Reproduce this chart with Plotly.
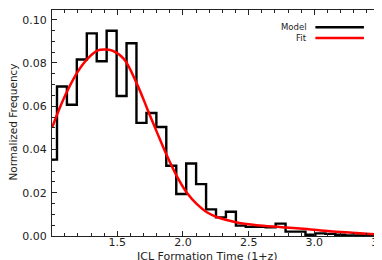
import plotly.graph_objects as go

# Histogram (bin centres, normalized frequency)
bin_centers = [1.003, 1.079, 1.154, 1.230, 1.306, 1.381, 1.457, 1.533, 1.608, 1.684,
               1.760, 1.835, 1.911, 1.987, 2.062, 2.138, 2.214, 2.289, 2.365, 2.441,
               2.516, 2.592, 2.668, 2.743, 2.819, 2.895, 2.970, 3.046, 3.122, 3.197,
               3.273, 3.349, 3.424, 3.500]
model_freq = [0.0353, 0.0691, 0.0607, 0.0816, 0.0937, 0.0808, 0.0949, 0.0647, 0.0891, 0.0523,
              0.0569, 0.0504, 0.0325, 0.0194, 0.0335, 0.0240, 0.0123, 0.0086, 0.0112, 0.0048,
              0.0042, 0.0042, 0.0040, 0.0057, 0.0020, 0.0020, 0.0006, 0.0012, 0.0010, 0.0006,
              0.0003, 0.0002, 0.0002, 0.0002]

# Fit curve samples
fit_x = [1.003, 1.06, 1.121, 1.197, 1.273, 1.348, 1.40, 1.462, 1.55, 1.652,
         1.727, 1.803, 1.879, 1.955, 2.03, 2.106, 2.182, 2.258, 2.333, 2.43,
         2.56, 2.75, 2.94, 3.12, 3.32, 3.5]
fit_y = [0.0500, 0.0590, 0.0673, 0.0758, 0.0819, 0.0857, 0.0862, 0.0857, 0.0819, 0.0700,
         0.0590, 0.0478, 0.0370, 0.0275, 0.0200, 0.0147, 0.0110, 0.0088, 0.0074, 0.0060,
         0.0050, 0.0041, 0.0032, 0.0022, 0.0014, 0.0006]

x_ticks = [1.5, 2.0, 2.5, 3.0, 3.5]
y_ticks = [0.00, 0.02, 0.04, 0.06, 0.08, 0.10]

FONT = "DejaVu Sans"
TXT = "#222222"

fig = go.Figure()
fig.add_trace(go.Scatter(x=bin_centers, y=model_freq, mode="lines",
                         line=dict(color="black", width=2.4, shape="hvh"),
                         name="Model", showlegend=False))
fig.add_trace(go.Scatter(x=fit_x, y=fit_y, mode="lines",
                         line=dict(color="#ff0000", width=2.5, shape="spline", smoothing=1.0),
                         name="Fit", showlegend=False))

axis_common = dict(showline=True, linecolor="#222222", linewidth=1, mirror="ticks",
                   ticks="inside", ticklen=5, tickcolor="#222222", tickwidth=1,
                   showgrid=False, zeroline=False, ticklabeloverflow="allow",
                   tickfont=dict(family=FONT, size=11, color=TXT))

fig.update_xaxes(range=[1.003, 3.5], tickmode="array", tickvals=x_ticks,
                 ticktext=[f"{v:.1f}" for v in x_ticks],
                 minor=dict(dtick=0.1, tick0=1.0, ticks="inside", ticklen=3,
                            tickcolor="#222222", showgrid=False),
                 ticklabelstandoff=-4,
                 **axis_common)
fig.update_yaxes(range=[0, 0.1045], tickmode="array", tickvals=y_ticks,
                 ticktext=[f"{v:.2f}" for v in y_ticks],
                 minor=dict(dtick=0.005, tick0=0, ticks="inside", ticklen=3,
                            tickcolor="#222222", showgrid=False),
                 ticklabelstandoff=2,
                 **axis_common)

# legend drawn manually (text left of line, as in the reference)
legend_items = [("Model", "black", 0.9237), ("Fit", "#ff0000", 0.8765)]
annotations = []
shapes = []
for label, color, yp in legend_items:
    annotations.append(dict(text=label, xref="paper", yref="paper", x=0.784, y=yp,
                            xanchor="right", yanchor="middle", showarrow=False,
                            font=dict(family=FONT, size=8.5, color=TXT)))
    shapes.append(dict(type="line", xref="paper", yref="paper", x0=0.803, x1=0.951,
                       y0=yp, y1=yp, line=dict(color=color, width=2.5)))

annotations.append(dict(text="ICL Formation Time (1+z)", xref="paper", yref="paper",
                        x=(200 - 44) / 330, y=-21.0 / 227, xanchor="center", yanchor="middle",
                        showarrow=False, font=dict(family=FONT, size=11, color=TXT)))
annotations.append(dict(text="Normalized Frequency", xref="paper", yref="paper",
                        x=(-3 - 44) / 330, y=(227.7 - 113.5) / 227, xanchor="left",
                        yanchor="middle", textangle=-90, showarrow=False,
                        font=dict(family=FONT, size=10.5, color=TXT)))

fig.update_layout(width=382, height=260, margin=dict(l=44, r=8, t=1, b=32),
                  paper_bgcolor="white", plot_bgcolor="white",
                  annotations=annotations, shapes=shapes, showlegend=False)

fig.write_html("out.html")
